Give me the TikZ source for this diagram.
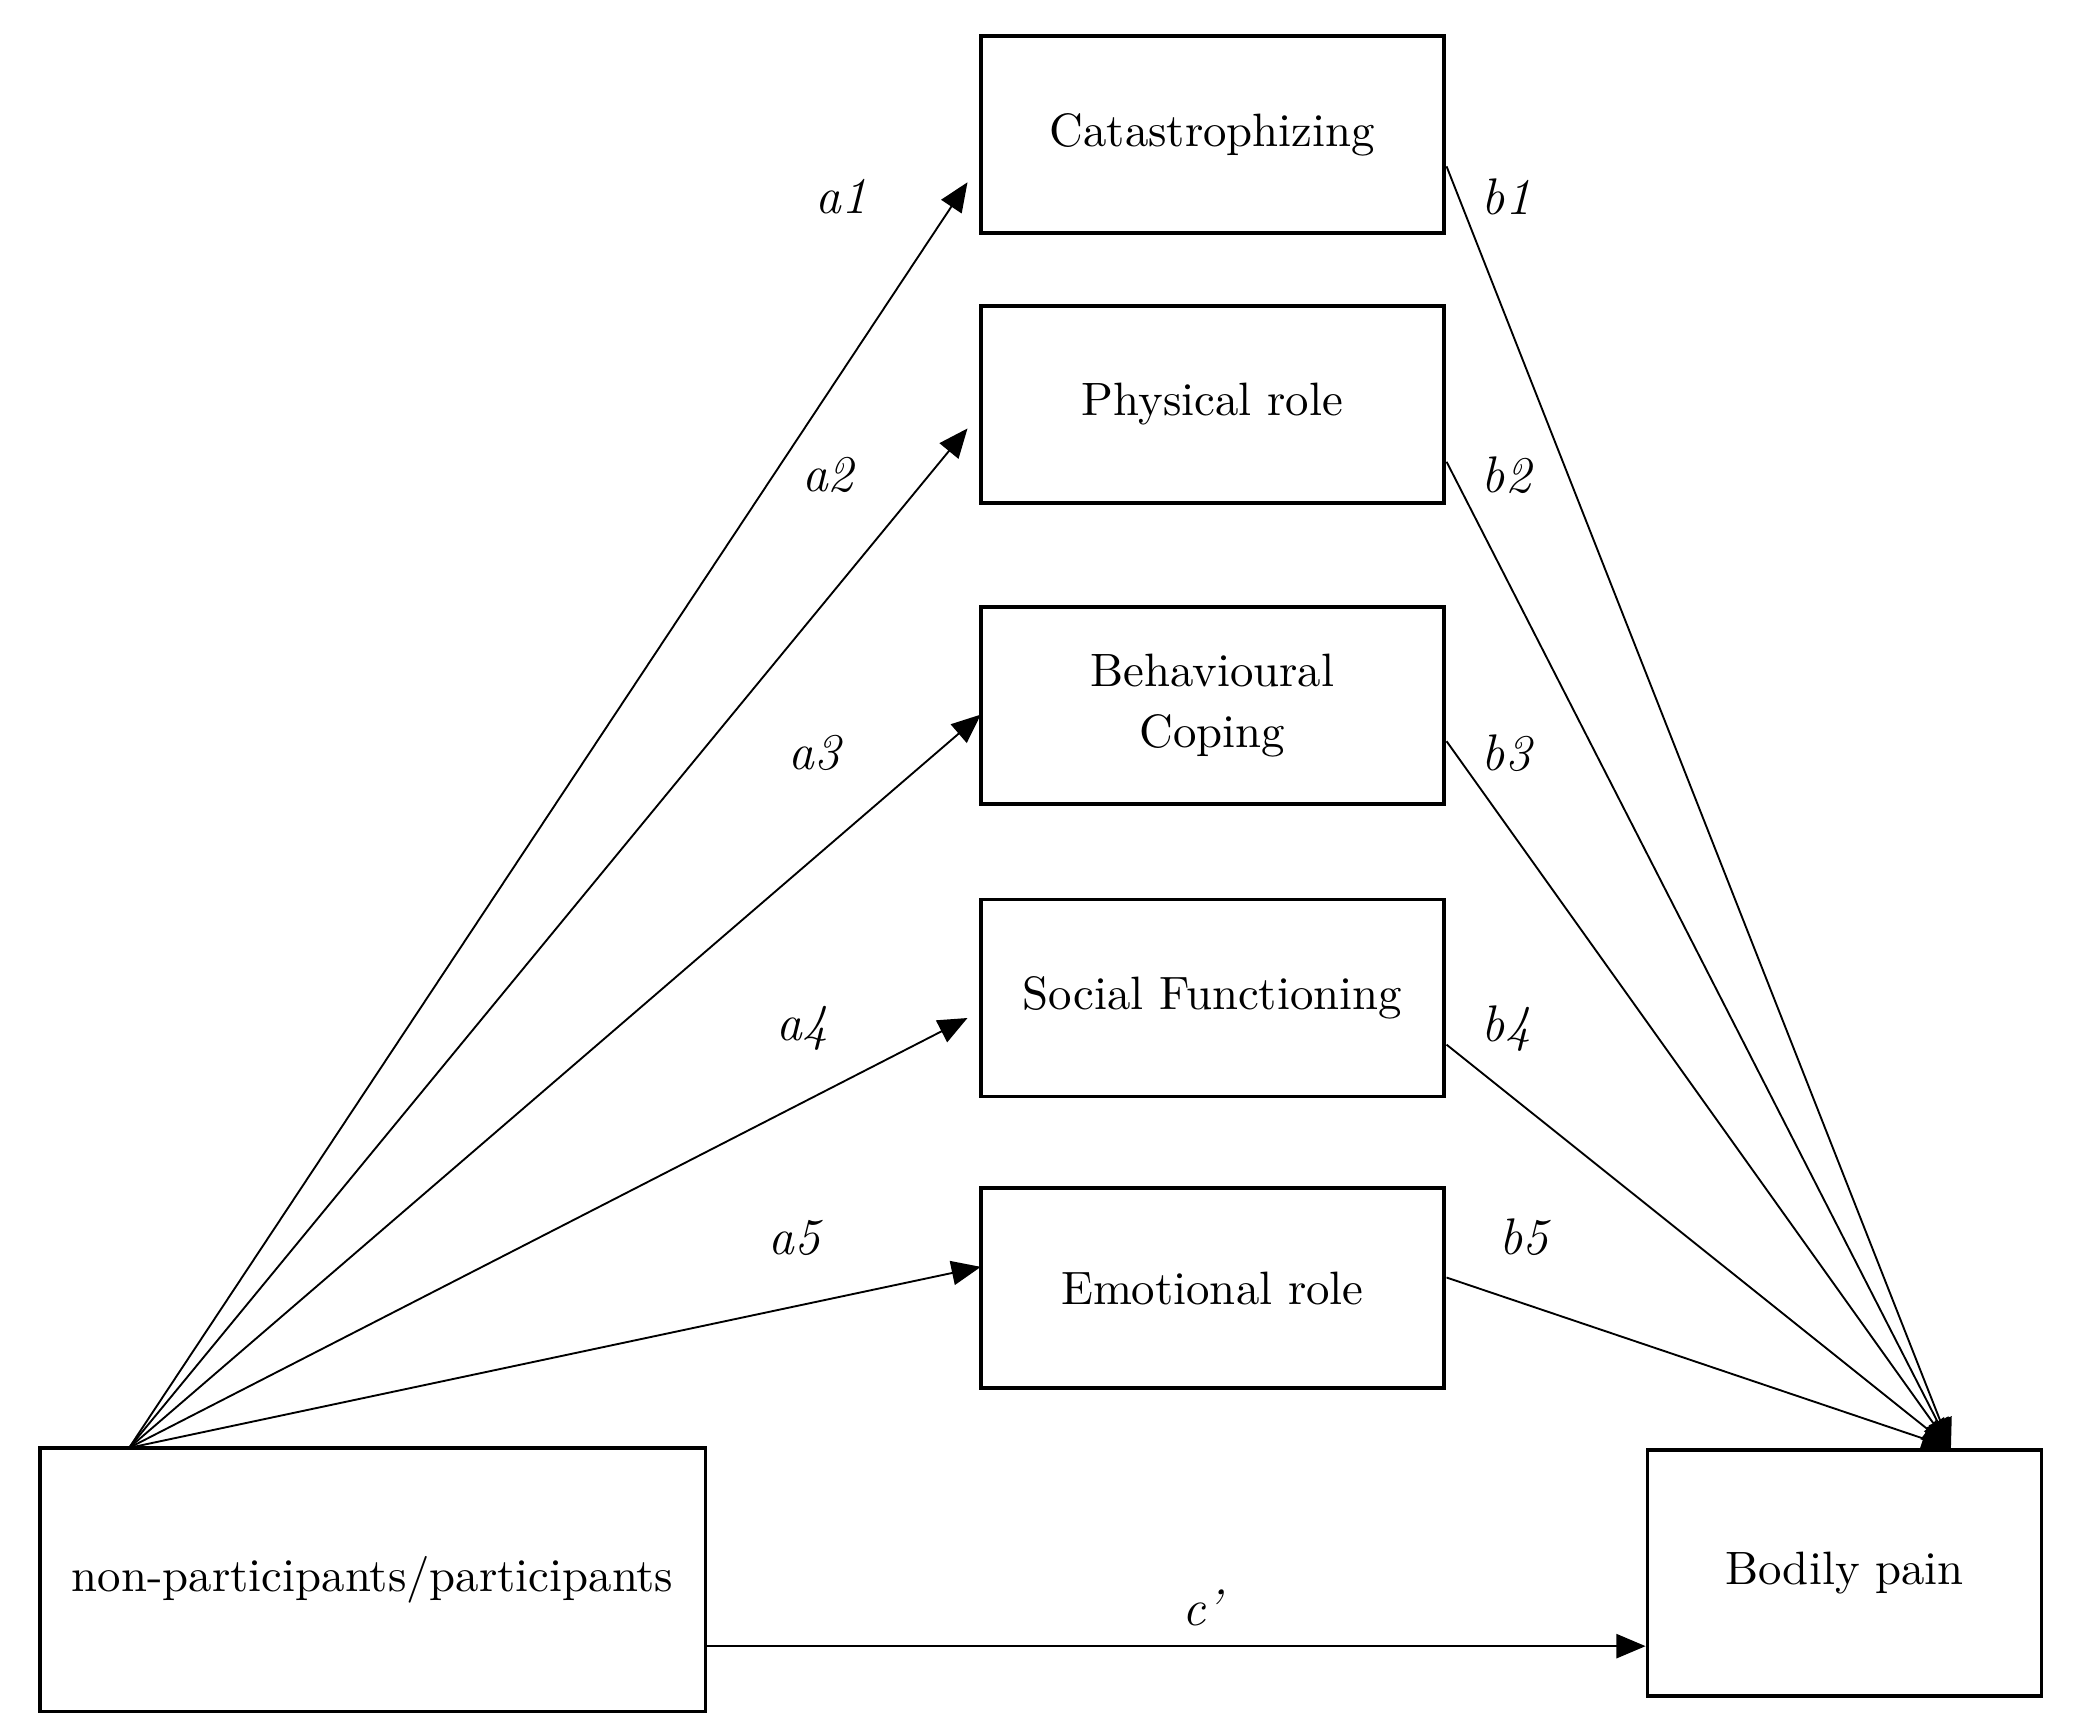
\documentclass[tikz,border=0pt]{standalone}
\usepackage{tikz}
\usetikzlibrary{arrows,positioning}
\tikzset{
  box/.style = {draw=black, thick, rectangle, align=center, inner sep=0pt,
    font=\fontsize{10}{13}\selectfont},% mediator boxes
  lbl/.style = {font=\fontsize{11}{13}\selectfont\itshape},% path labels
  path/.style = {-triangle 45, thin}
}
\begin{document}
\begin{tikzpicture}[x=0.01cm,y=-0.01cm]
    \useasboundingbox (0,0) rectangle (1560,1304);
    \node [box, minimum width=3.48cm, minimum height=1.48cm] (M1) at (911,101) {Catastrophizing};
    \node [box, minimum width=3.48cm, minimum height=1.48cm] (M2) at (911,304) {Physical role};
    \node [box, minimum width=3.48cm, minimum height=1.48cm] (M3) at (911,530) {Behavioural\\Coping};
    \node [box, minimum width=3.48cm, minimum height=1.48cm] (M4) at (911,750) {Social Functioning};
    \node [box, minimum width=3.48cm, minimum height=1.5cm] (M5) at (911,968) {Emotional role};
    \node [box, minimum width=5cm, minimum height=1.98cm] (X) at (280,1187) {non-participants/participants};
    \node [box, minimum width=2.96cm, minimum height=1.85cm] (Y) at (1386,1182) {Bodily pain};
    % arrow ends
    \coordinate (xs) at (97,1088);
    \coordinate (yt) at (1466,1088);
    \coordinate (e1) at (727,137);
    \coordinate (e2) at (727,322);
    \coordinate (e3) at (737,537);
    \coordinate (e4) at (727,765);
    \coordinate (e5) at (737,952);
    \coordinate (s1) at (1087,125);
    \coordinate (s2) at (1087,347);
    \coordinate (s3) at (1087,557);
    \coordinate (s4) at (1087,785);
    \coordinate (s5) at (1087,960);
    \foreach \i in {1,...,5}{
      \draw [path] (xs) -- (e\i);
      \draw [path] (s\i) -- (yt);
    }
    \draw [path] (X.east |- 0,1237) -- (Y.west |- 0,1237);
    % labels
    \node [lbl] at (632,148) {a1};
    \node [lbl] at (622,357) {a2};
    \node [lbl] at (612,566) {a3};
    \node [lbl] at (603,773) {a4};
    \node [lbl] at (597,930) {a5};
    \node [lbl] at (1132,148) {b1};
    \node [lbl] at (1132,357) {b2};
    \node [lbl] at (1132,566) {b3};
    \node [lbl] at (1132,773) {b4};
    \node [lbl] at (1145,930) {b5};
    \node [lbl] at (903,1208) {c'};
\end{tikzpicture}
\end{document}
